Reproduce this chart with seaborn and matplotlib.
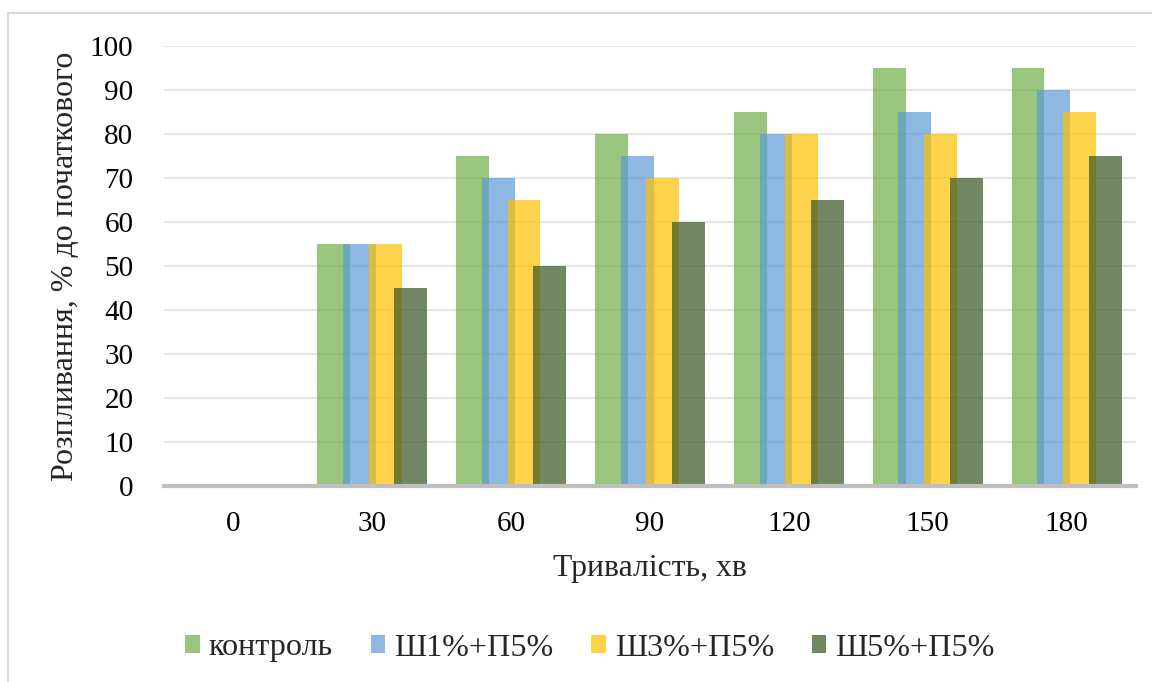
import numpy as np
import pandas as pd
import matplotlib
matplotlib.use("Agg")
import matplotlib.pyplot as plt
import seaborn as sns
from matplotlib.patches import Patch, Rectangle

# Data
durations = ["0", "30", "60", "90", "120", "150", "180"]
series_names = ["контроль", "Ш1%+П5%", "Ш3%+П5%", "Ш5%+П5%"]
control = [0, 55, 75, 80, 85, 95, 95]
sh1_p5 = [0, 55, 70, 75, 80, 85, 90]
sh3_p5 = [0, 55, 65, 70, 80, 80, 85]
sh5_p5 = [0, 45, 50, 60, 65, 70, 75]
colors = ["#70AD47", "#5B9BD5", "#FFC000", "#375623"]

df = pd.DataFrame({
    "t": durations * 4,
    "v": control + sh1_p5 + sh3_p5 + sh5_p5,
    "s": [n for n in series_names for _ in durations],
})

sns.set_theme(style="white")
plt.rcParams["font.family"] = ["Liberation Serif", "DejaVu Serif"]

W, H, DPI = 1152, 682, 100
fig = plt.figure(figsize=(W / DPI, H / DPI), dpi=DPI)

# outer chart frame
fig.patches.append(Rectangle((8 / W, -0.05), 1.2, (H - 13) / H + 0.05,
                             transform=fig.transFigure, fill=False,
                             edgecolor="#D9D9D9", linewidth=1.5))

left, right, top, bottom = 164, 1136, 46, 486
ax = fig.add_axes([left / W, (H - bottom) / H, (right - left) / W, (bottom - top) / H])

step = 0.185
bar_w = 0.237
sns.barplot(data=df, x="t", y="v", hue="s", order=durations,
            hue_order=series_names, palette=colors, width=4 * step,
            dodge=True, saturation=1, errorbar=None, legend=False, ax=ax)

# widen bars so neighbours overlap, keep centres
for p in ax.patches:
    cx = p.get_x() + p.get_width() / 2
    p.set_width(bar_w)
    p.set_x(cx - bar_w / 2)
    p.set_alpha(0.7)
    p.set_linewidth(0)

ax.set_xlim(-0.5, len(durations) - 0.5)
ax.set_ylim(0, 100)
ax.set_yticks(np.arange(0, 101, 10))
ax.grid(axis="y", color="#E6E6E6", linewidth=1.5)
ax.set_axisbelow(True)
for s in ["top", "right", "left"]:
    ax.spines[s].set_visible(False)
ax.spines["bottom"].set_color("#BFBFBF")
ax.spines["bottom"].set_linewidth(3)
ax.tick_params(axis="both", length=0, labelsize=21, colors="black")
ax.tick_params(axis="y", pad=22)
ax.tick_params(axis="x", pad=18)

ax.set_xlabel("Тривалість, хв", fontsize=22.8, labelpad=12)
ax.set_ylabel("Розпливання, % до початкового", fontsize=23, labelpad=7)

handles = [Patch(facecolor=c, alpha=0.7, edgecolor="none") for c in colors]
fig.legend(handles, series_names, loc="center", ncol=4, frameon=False,
           bbox_to_anchor=(590 / W, 1 - 648 / H), fontsize=23.1,
           handlelength=0.46, handleheight=0.46, handletextpad=0.28,
           columnspacing=1.17)

fig.savefig("out.png", dpi=DPI)
